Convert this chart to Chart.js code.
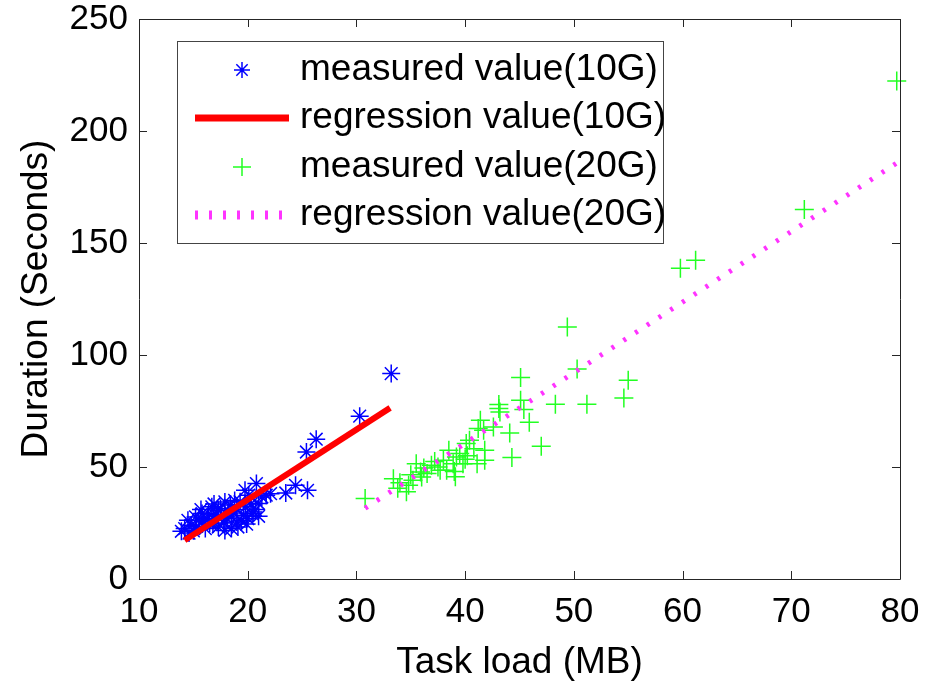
<!DOCTYPE html>
<html>
<head>
<meta charset="utf-8">
<script src="https://cdn.jsdelivr.net/npm/chart.js@4.4.1/dist/chart.umd.min.js"></script>
<style>
  html, body { margin: 0; padding: 0; background: #fff; }
  #wrap { width: 932px; height: 685px; }
</style>
</head>
<body>
<div id="wrap"><canvas id="c" width="932" height="685"></canvas></div>
<script>
// measured points, 10G cluster
const blueX = [33.2, 30.3, 26.3, 25.4, 20.8, 23.5, 24.4, 25.5, 21.7,
  13.9, 14.2, 14.5, 14.8, 15.2, 15.5, 15.8, 16.1, 16.4, 16.7, 17.0, 17.3, 17.3, 17.6,
  17.9, 17.9, 18.2, 18.5, 18.5, 18.8, 19.1, 19.4, 19.75, 19.8, 20.1, 20.4, 20.5, 21.0,
  21.3, 22.1, 15.0, 16.5, 19.0, 20.0,
  14.6, 15.3, 15.9, 16.3, 16.8, 17.1, 17.5, 17.8, 18.1, 18.4, 18.7, 19.0, 19.3, 19.6,
  19.9, 20.3, 20.7, 21.0, 15.7, 16.9];
const blueY = [91.7, 72.7, 62.4, 56.7, 42.6, 38.4, 41.8, 39.6, 37.4,
  21.3, 22.5, 26.2, 24.0, 27.7, 26.2, 29.2, 22.5, 29.2, 32.2, 26.2, 30.7, 23.2, 27.7,
  34.4, 21.7, 30.7, 27.7, 22.5, 35.1, 23.2, 26.2, 39.6, 32.2, 37.4, 29.2, 29.9, 33.7,
  36.6, 38.1, 21.5, 25.0, 31.0, 27.0,
  20.5, 23.5, 25.8, 27.0, 24.5, 28.8, 31.5, 25.0, 27.0, 33.0, 29.5, 25.5, 34.5, 28.5,
  24.5, 33.5, 31.0, 28.0, 31.0, 33.5];

// measured points, 20G cluster
const greenX = [30.8, 33.4, 34.8, 34.6, 35.2, 35.9, 36.9, 36.5, 35.5, 38.3, 39.1, 38.5,
  39.2, 39.8, 40.8, 40.1, 41.1, 41.4, 41.2, 43.1, 40.4, 37.7, 41.8, 39.5, 38.9, 41.7,
  42.6, 43.2, 44.1, 45.9, 45.4, 45.1, 43.1, 44.3, 47.0, 45.1, 48.3, 51.2, 50.3, 49.4,
  54.6, 55.0, 59.8, 61.2, 71.2, 79.7, 41.8, 34.0, 36.0, 37.2, 40.2,
  36.2, 37.5, 38.0, 39.0, 40.0, 35.0, 33.8];
const greenY = [35.9, 44.8, 41.8, 38.9, 44.1, 47.8, 50.8, 47.1, 51.5, 48.5, 45.6, 57.5,
  54.5, 51.5, 58.2, 60.5, 51.5, 70.9, 67.2, 76.1, 61.9, 48.5, 57.5, 56.0, 51.5, 66.4,
  67.9, 74.6, 65.2, 70.0, 75.7, 79.8, 77.9, 54.2, 59.3, 90.0, 78.0, 78.0, 93.7, 112.5,
  80.8, 88.7, 138.7, 142.3, 165.0, 222.3, 53.0, 43.0, 45.5, 52.5, 55.0,
  49.5, 50.0, 53.0, 48.0, 53.5, 46.5, 40.5];

// regression lines
const reg10X = [14.2, 33.1];
const reg10Y = [17.3, 76.4];
const reg20X = [30.8, 79.8];
const reg20Y = [31.6, 186.0];

const xTicks = [10, 20, 30, 40, 50, 60, 70, 80];
const yTicks = [0, 50, 100, 150, 200, 250];

const FONT = "'Liberation Sans', Arial, Helvetica, sans-serif";

function pairs(xs, ys) {
  return xs.map((x, i) => ({ x: x, y: ys[i] }));
}

// box frame with inward ticks on all four sides (matlab style)
const frameTicks = {
  id: 'frameTicks',
  afterDatasetsDraw(chart) {
    const { ctx, chartArea: a, scales } = chart;
    const len = 8;
    ctx.save();
    ctx.strokeStyle = '#262626';
    ctx.lineWidth = 1;
    ctx.beginPath();
    ctx.rect(Math.round(a.left) + 0.5, Math.round(a.top) + 0.5,
      Math.round(a.right - a.left), Math.round(a.bottom - a.top));
    xTicks.forEach(v => {
      const px = Math.round(scales.x.getPixelForValue(v)) + 0.5;
      ctx.moveTo(px, a.bottom); ctx.lineTo(px, a.bottom - len);
      ctx.moveTo(px, a.top); ctx.lineTo(px, a.top + len);
    });
    yTicks.forEach(v => {
      const py = Math.round(scales.y.getPixelForValue(v)) + 0.5;
      ctx.moveTo(a.left, py); ctx.lineTo(a.left + len, py);
      ctx.moveTo(a.right, py); ctx.lineTo(a.right - len, py);
    });
    ctx.stroke();
    ctx.restore();
  }
};

// legend box in the upper left of the axes
const boxLegend = {
  id: 'boxLegend',
  afterDraw(chart) {
    const ctx = chart.ctx;
    const x0 = 177, y0 = 41, x1 = 663, y1 = 243;
    const rows = [70, 118, 167, 215];
    ctx.save();
    ctx.fillStyle = '#fff';
    ctx.fillRect(x0, y0, x1 - x0, y1 - y0);
    ctx.strokeStyle = '#444';
    ctx.lineWidth = 1;
    ctx.strokeRect(x0 + 0.5, y0 + 0.5, x1 - x0, y1 - y0);

    chart.data.datasets.forEach((ds, i) => {
      const y = rows[i];
      ctx.save();
      ctx.strokeStyle = ds.borderColor;
      if (ds.pointStyle === 'star') {
        const r = 8, d = r * Math.SQRT1_2;
        ctx.lineWidth = 1.5;
        ctx.beginPath();
        ctx.moveTo(242 - r, y); ctx.lineTo(242 + r, y);
        ctx.moveTo(242, y - r); ctx.lineTo(242, y + r);
        ctx.moveTo(242 - d, y - d); ctx.lineTo(242 + d, y + d);
        ctx.moveTo(242 - d, y + d); ctx.lineTo(242 + d, y - d);
        ctx.stroke();
      } else if (ds.pointStyle === 'cross') {
        const r = 9;
        ctx.lineWidth = 1.5;
        ctx.beginPath();
        ctx.moveTo(242 - r, y); ctx.lineTo(242 + r, y);
        ctx.moveTo(242, y - r); ctx.lineTo(242, y + r);
        ctx.stroke();
      } else if (ds.borderDash) {
        ctx.lineWidth = 9;
        ctx.setLineDash([3, 11]);
        ctx.beginPath();
        ctx.moveTo(195, y); ctx.lineTo(286, y);
        ctx.stroke();
      } else {
        ctx.lineWidth = 7;
        ctx.beginPath();
        ctx.moveTo(195, y); ctx.lineTo(289, y);
        ctx.stroke();
      }
      ctx.restore();
      ctx.fillStyle = '#000';
      ctx.font = '37px ' + FONT;
      ctx.textBaseline = 'middle';
      ctx.textAlign = 'left';
      ctx.fillText(ds.label, 300, y);
    });
    ctx.restore();
  }
};

const ctx = document.getElementById('c').getContext('2d');

new Chart(ctx, {
  type: 'scatter',
  data: {
    datasets: [
      {
        label: 'measured value(10G)',
        data: pairs(blueX, blueY),
        pointStyle: 'star',
        pointRadius: 9,
        borderColor: '#0000ff',
        backgroundColor: '#0000ff',
        pointBorderWidth: 1.5,
        showLine: false,
        order: 4,
        clip: false,
      },
      {
        label: 'regression value(10G)',
        type: 'line',
        data: pairs(reg10X, reg10Y),
        borderColor: '#ff0000',
        borderWidth: 6,
        pointRadius: 0,
        fill: false,
        order: 3,
      },
      {
        label: 'measured value(20G)',
        data: pairs(greenX, greenY),
        pointStyle: 'cross',
        pointRadius: 9.5,
        borderColor: '#22ff22',
        backgroundColor: '#22ff22',
        pointBorderWidth: 1.5,
        showLine: false,
        order: 2,
        clip: false,
      },
      {
        label: 'regression value(20G)',
        type: 'line',
        data: pairs(reg20X, reg20Y),
        borderColor: '#ff33ff',
        borderWidth: 5,
        borderDash: [3, 11],
        borderCapStyle: 'butt',
        pointRadius: 0,
        fill: false,
        order: 1,
      },
    ],
  },
  options: {
    responsive: false,
    animation: false,
    layout: {
      padding: { left: 0, top: 19, right: 32, bottom: 0 },
    },
    scales: {
      x: {
        type: 'linear',
        min: 10,
        max: 80,
        afterFit: (s) => { s.height = 106; s.paddingLeft = 0; s.paddingRight = 0; },
        afterBuildTicks: (s) => { s.ticks = xTicks.map(v => ({ value: v })); },
        grid: { display: false, drawTicks: false },
        border: { display: false },
        ticks: {
          padding: 12,
          color: '#000',
          font: { family: FONT, size: 35 },
        },
        title: {
          display: true,
          text: 'Task load (MB)',
          color: '#000',
          font: { family: FONT, size: 37 },
          padding: { top: 3, bottom: 0 },
        },
      },
      y: {
        type: 'linear',
        min: 0,
        max: 250,
        afterFit: (s) => { s.width = 139; s.paddingTop = 0; s.paddingBottom = 0; },
        afterBuildTicks: (s) => { s.ticks = yTicks.map(v => ({ value: v })); },
        grid: { display: false, drawTicks: false },
        border: { display: false },
        ticks: {
          padding: 11,
          color: '#000',
          font: { family: FONT, size: 35 },
        },
        title: {
          display: true,
          text: 'Duration (Seconds)',
          color: '#000',
          font: { family: FONT, size: 37 },
          padding: { top: 15, bottom: 0 },
        },
      },
    },
    plugins: {
      legend: { display: false },
      tooltip: { enabled: false },
    },
  },
  plugins: [frameTicks, boxLegend],
});
</script>
</body>
</html>
